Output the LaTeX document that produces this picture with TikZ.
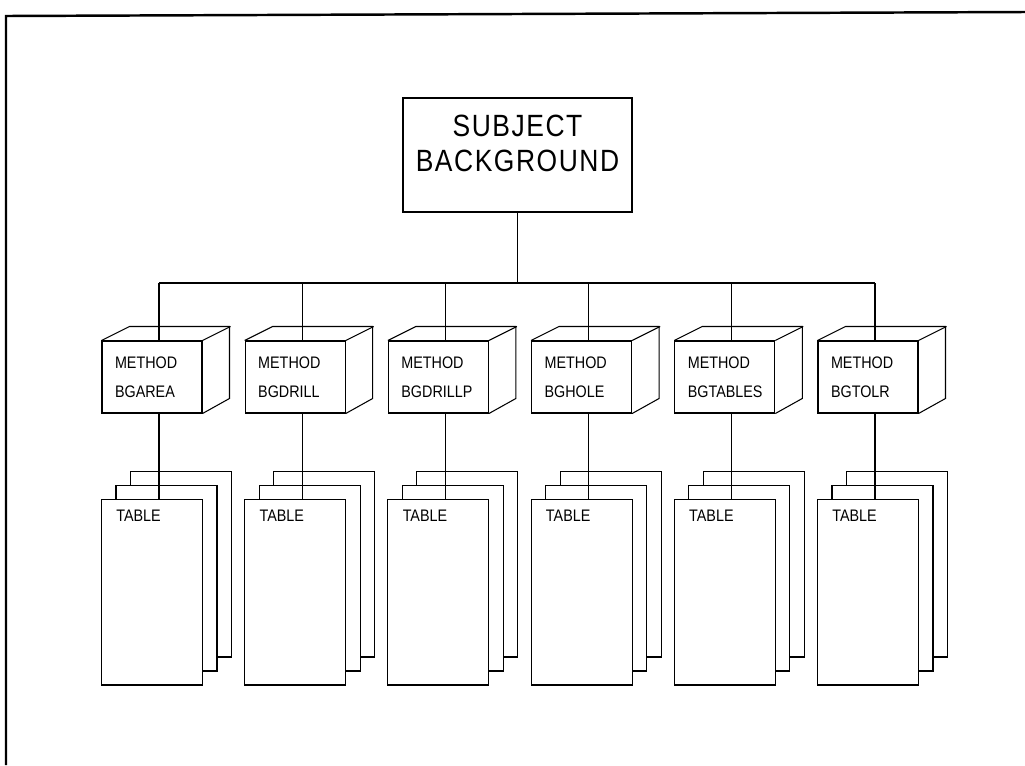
\documentclass[tikz,border=0pt]{standalone}
\usepackage{fontspec}
\setmainfont[FakeStretch=0.86]{Liberation Sans}
\usetikzlibrary{positioning}

\begin{document}
\begin{tikzpicture}[x=0.02cm, y=-0.02cm, line width=0.6pt,
    cubeface/.style={draw, fill=white, minimum width=2cm, minimum height=1.44cm,
      text width=1.48cm, inner xsep=0.26cm, align=left,
      font=\fontsize{9.5}{16.5}\selectfont},
    sheet/.style={draw, fill=white, minimum width=2.02cm, minimum height=3.72cm},
    sheettitle/.style={anchor=north west, xshift=0.18cm, yshift=-0.1cm,
      font=\fontsize{9.5}{12}\selectfont}]
    \useasboundingbox (0,0) rectangle (1025,765);

    % Rahmen
    \draw[line width=1.4pt] (6,765) -- (6,16) -- (1025,12);

    % Wurzel
    \node[draw, minimum width=4.58cm, minimum height=2.28cm,
      label={[font=\fontsize{17.5}{20}\selectfont\addfontfeature{LetterSpace=5}, align=center, yshift=0.23cm]center:SUBJECT\\BACKGROUND}]
      (subj) at (517.5,155) {};
    \coordinate (bus) at (517.5,283);
    \draw (subj.south) -- (bus);

    % Methoden mit Tabellen
    \foreach \nm [count=\i] in {BGAREA,BGDRILL,BGDRILLP,BGHOLE,BGTABLES,BGTOLR} {
      \pgfmathsetmacro\sx{159+143.2*(\i-1)}
      \node[sheet] (tc\i) at (\sx+22,564) {};
      \node[sheet] (tb\i) at (\sx+7.5,578) {};
      \node[sheet, label={[sheettitle]north west:TABLE}] (t\i) at (\sx-7,592) {};
      \node[cubeface] (m\i) at (\sx-7,377) {METHOD\\\nm};
      \draw (m\i.north west) -- ++(28,-14) -- ++(100,0) -- ++(0,72) -- (m\i.south east);
      \draw (m\i.north east) -- ++(28,-14);
      \draw ([xshift=0.14cm]m\i.north) -- ([xshift=0.14cm]m\i.north |- bus);
      \draw ([xshift=0.14cm]m\i.south) -- ([xshift=0.14cm]t\i.north);
    }
    % Sammelleitung
    \draw ([xshift=0.14cm]m1.north |- bus) -- ([xshift=0.14cm]m6.north |- bus);
\end{tikzpicture}
\end{document}
